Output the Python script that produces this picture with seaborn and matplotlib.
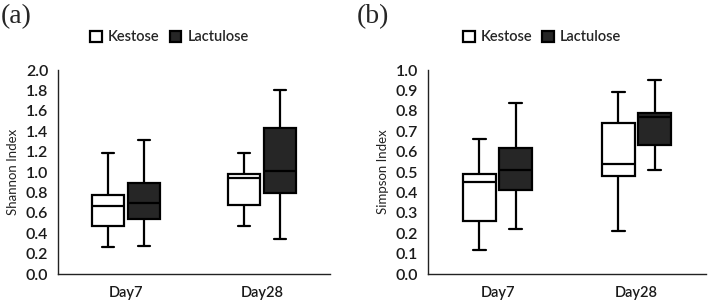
import numpy as np
import pandas as pd
import matplotlib
matplotlib.use("Agg")
import matplotlib.pyplot as plt
import seaborn as sns
from matplotlib.patches import Patch

days = ["Day7", "Day28"]
groups = ["Kestose", "Lactulose"]

# five-number summaries: [whisker low, Q1, median, Q3, whisker high]
shannon_kestose_day7 = [0.26, 0.47, 0.67, 0.77, 1.19]
shannon_lactulose_day7 = [0.27, 0.54, 0.70, 0.89, 1.31]
shannon_kestose_day28 = [0.47, 0.68, 0.94, 0.98, 1.19]
shannon_lactulose_day28 = [0.34, 0.79, 1.01, 1.43, 1.80]

simpson_kestose_day7 = [0.12, 0.26, 0.45, 0.49, 0.66]
simpson_lactulose_day7 = [0.22, 0.41, 0.51, 0.62, 0.84]
simpson_kestose_day28 = [0.21, 0.48, 0.54, 0.74, 0.89]
simpson_lactulose_day28 = [0.51, 0.63, 0.77, 0.79, 0.95]

shannon_ticks = ["0.0", "0.2", "0.4", "0.6", "0.8", "1.0", "1.2", "1.4", "1.6", "1.8", "2.0"]
simpson_ticks = ["0.0", "0.1", "0.2", "0.3", "0.4", "0.5", "0.6", "0.7", "0.8", "0.9", "1.0"]


def make_df(kd7, ld7, kd28, ld28):
    rows = []
    for day, grp, vals in [("Day7", "Kestose", kd7), ("Day7", "Lactulose", ld7),
                           ("Day28", "Kestose", kd28), ("Day28", "Lactulose", ld28)]:
        for v in vals:
            rows.append({"Day": day, "Group": grp, "Value": v})
    return pd.DataFrame(rows)


df_a = make_df(shannon_kestose_day7, shannon_lactulose_day7, shannon_kestose_day28, shannon_lactulose_day28)
df_b = make_df(simpson_kestose_day7, simpson_lactulose_day7, simpson_kestose_day28, simpson_lactulose_day28)

sns.set_style("white")
plt.rcParams["font.family"] = ["Lato", "DejaVu Sans"]

W, H = 708, 307
fig = plt.figure(figsize=(7.08, 3.07), dpi=100)

palette = {"Kestose": "#ffffff", "Lactulose": "#262626"}
line_kw = dict(color="black", linewidth=1.6)


def panel(left_px, right_px, df, ticks, ylabel, label, label_x):
    top_px, bottom_px = 70, 274
    ax = fig.add_axes([left_px / W, 1 - bottom_px / H, (right_px - left_px) / W, (bottom_px - top_px) / H])
    sns.boxplot(data=df, x="Day", y="Value", hue="Group", order=days, hue_order=groups,
                palette=palette, whis=(0, 100), width=0.52, gap=0.1, linecolor="black",
                linewidth=1.6, showfliers=False, ax=ax, legend=False,
                boxprops=dict(edgecolor="black", linewidth=1.6),
                medianprops=line_kw, whiskerprops=line_kw, capprops=line_kw,
                capwidths=0.09)
    tv = [float(t) for t in ticks]
    ax.set_ylim(0, tv[-1])
    ax.set_xlim(-0.5, 1.5)
    ax.set_yticks(tv)
    ax.set_yticklabels(ticks, fontsize=11.5, fontweight=600, color="#1a1a1a")
    ax.set_xticks([0, 1])
    ax.set_xticklabels(days, fontsize=10.5, fontweight=600, color="#1a1a1a")
    ax.tick_params(axis="both", length=0, pad=7)
    ax.tick_params(axis="x", pad=9)
    ax.set_xlabel("")
    ax.set_ylabel(ylabel, fontsize=9.5, color="#222222", labelpad=5)
    for s in ["top", "right"]:
        ax.spines[s].set_visible(False)
    for s in ["left", "bottom"]:
        ax.spines[s].set_color("#222222")
        ax.spines[s].set_linewidth(1.0)
    handles = [Patch(facecolor=palette[g], edgecolor="black", linewidth=1.6, label=g) for g in groups]
    ax.legend(handles=handles, loc="center", bbox_to_anchor=(0.41, 1.16), ncol=2, frameon=False,
              handlelength=0.8, handleheight=0.8, handletextpad=0.4, columnspacing=0.7,
              prop={"size": 10.5, "weight": 600})
    fig.text(label_x / W, 1 - 17 / H, label, fontsize=20, family="Liberation Serif", va="center", ha="left")
    return ax


panel(58, 330, df_a, shannon_ticks, "Shannon Index", "(a)", 1)
panel(428, 706, df_b, simpson_ticks, "Simpson Index", "(b)", 357)

fig.savefig("out.png", dpi=100)
